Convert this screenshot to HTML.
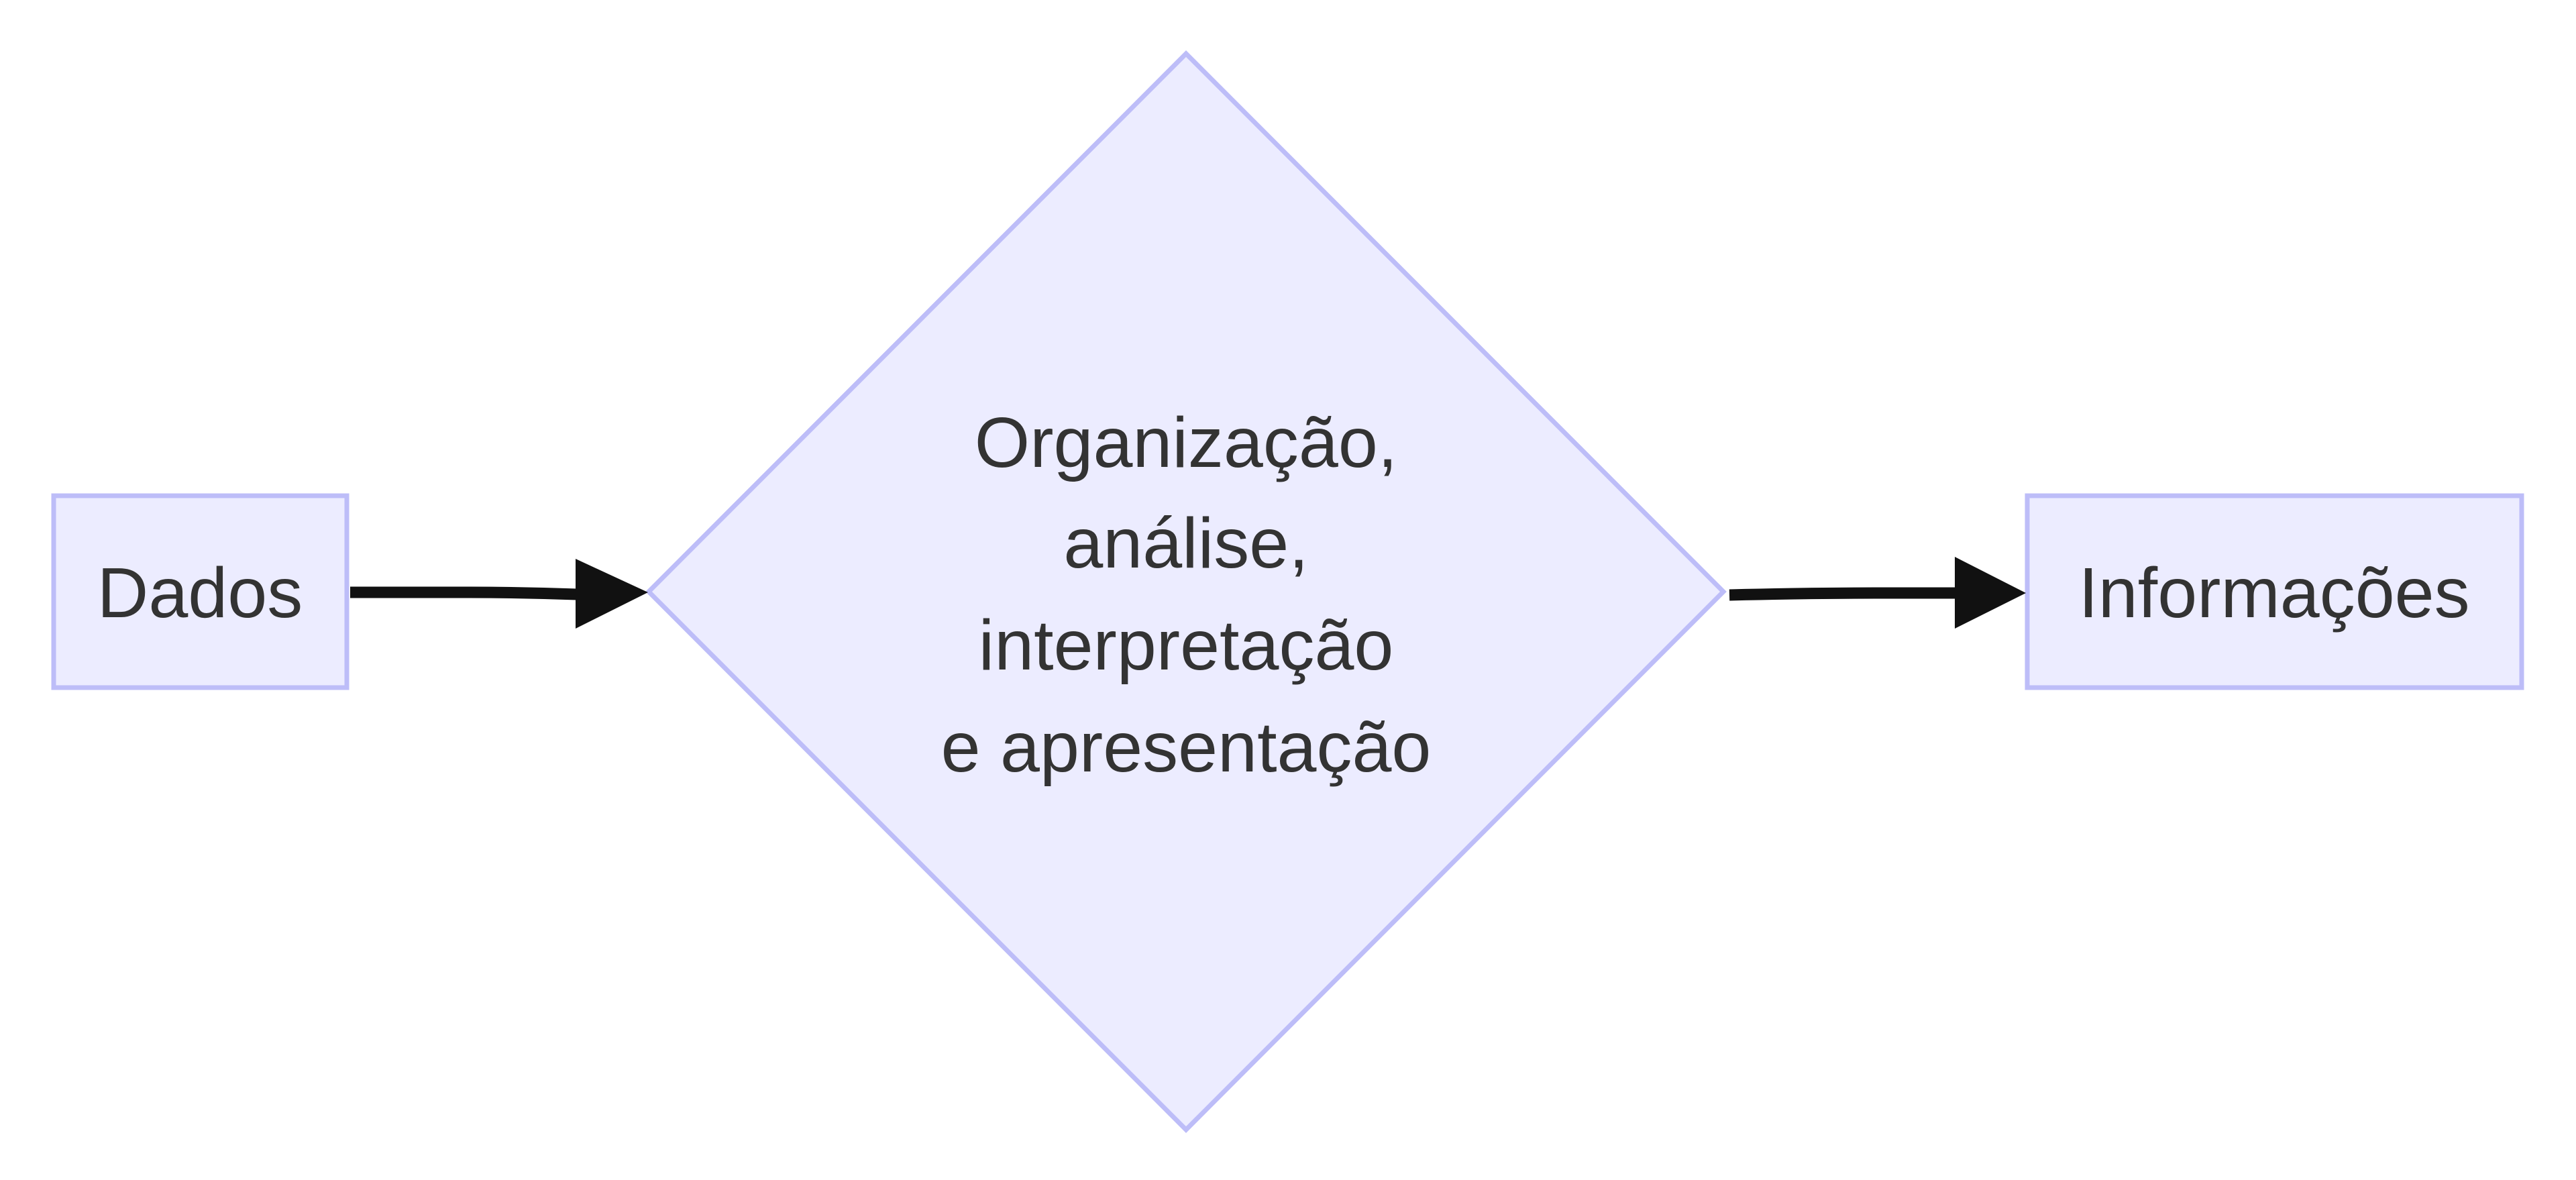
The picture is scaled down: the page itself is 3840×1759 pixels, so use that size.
<!DOCTYPE html>
<html><head><meta charset="utf-8"><style>
html,body{margin:0;padding:0;background:#fff;}
svg{display:block}
text{font-family:"Liberation Sans",sans-serif;fill:#333;font-size:106px;text-anchor:middle;dominant-baseline:central}
</style></head><body>
<svg width="3840" height="1759" viewBox="0 0 3840 1759" xmlns="http://www.w3.org/2000/svg">
<rect x="80" y="739" width="437" height="286" fill="#ECECFF" stroke="#BDBDF8" stroke-width="7"/>
<text x="298" y="884">Dados</text>
<polygon points="1768,80 2569,882 1768,1684 967,882" fill="#ECECFF" stroke="#BDBDF8" stroke-width="7"/>
<text x="1768" y="660">Organização,</text>
<text x="1768" y="810">análise,</text>
<text x="1768" y="962">interpretação</text>
<text x="1768" y="1114">e apresentação</text>
<rect x="3022" y="739" width="737" height="286" fill="#ECECFF" stroke="#BDBDF8" stroke-width="7"/>
<text x="3390" y="884">Informações</text>
<path d="M522,883 L700,883 Q780,883 860,886" stroke="#111" stroke-width="17" fill="none"/>
<polygon points="858,833 966,883 858,937" fill="#111"/>
<path d="M2578,887 Q2700,884 2800,884 L2920,884" stroke="#111" stroke-width="17" fill="none"/>
<polygon points="2914,830 3020,884 2914,937" fill="#111"/>
</svg>
</body></html>
